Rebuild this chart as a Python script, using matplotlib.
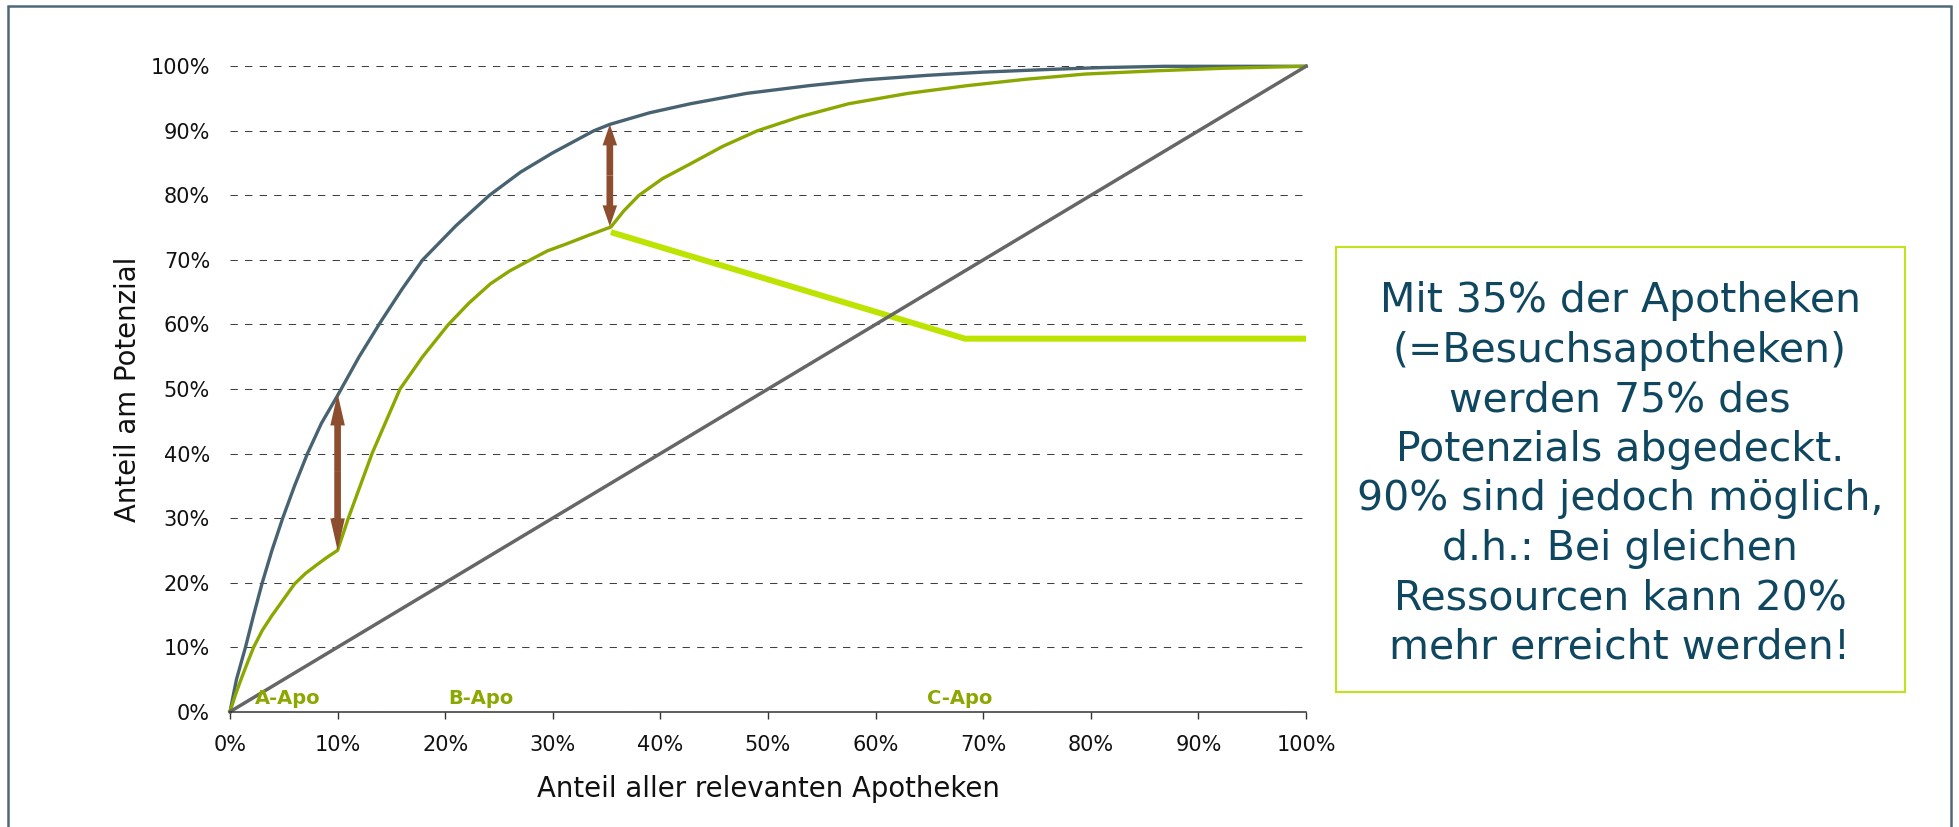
import matplotlib
matplotlib.use("Agg")
import matplotlib.pyplot as plt
from matplotlib.patches import Rectangle
from matplotlib.ticker import PercentFormatter, MultipleLocator

plt.rcParams['font.family'] = ['DejaVu Sans']

# ---- data -------------------------------------------------------------
# ideal cumulative potential (pharmacies sorted by potential)
ideal_x = [0, 0.6, 1.44, 2.2, 3.0, 3.9, 4.9, 6.0, 7.2, 8.5, 10, 12, 14.0, 16,
           17.9, 21, 24.1, 27, 30.0, 33.8, 35.3, 39, 42.8, 48, 53.8, 59,
           64.8, 70, 75.9, 81, 86.9, 100]
ideal_y = [0, 5, 10, 15, 20, 25, 30, 35, 40, 44.7, 49, 55, 60.4, 65.5,
           70, 75.3, 80, 83.6, 86.6, 90, 91, 92.8, 94.2, 95.8, 97.0, 97.9,
           98.6, 99.1, 99.5, 99.8, 100, 100]

# actual cumulative potential with the A/B/C classification
actual_x = [0, 0.5, 1, 1.6, 2.2, 3.0, 3.9, 4.8, 6.0, 7.0, 8.1, 9.0, 10,
            11.0, 12.1, 13.2, 14.5, 15.8, 17.9, 20.3, 22.2, 24.2, 26, 27.9,
            29.5, 31.3, 33.3, 35.4,
            36.6, 38.0, 40.2, 42.8, 45.8, 49.0, 53, 57.5, 63, 68.5, 74,
            79.5, 86, 92.4, 100]
actual_y = [0, 2.6, 4.9, 7.5, 10, 12.6, 14.9, 17.0, 19.8, 21.4, 22.8, 23.9, 25,
            30, 35, 40, 45, 50, 55, 60, 63.3, 66.3, 68.3, 70,
            71.4, 72.5, 73.8, 75.1,
            77.6, 80, 82.6, 84.9, 87.6, 90, 92.2, 94.2, 95.8, 97.0, 98.0,
            98.8, 99.3, 99.7, 100]

# share of visited pharmacies
visit_x = [35.4, 68.3, 100]
visit_y = [74.3, 57.8, 57.8]

# equal distribution
diag_x = [0, 100]
diag_y = [0, 100]

# gaps between ideal and actual curve
gap_x = [10, 35.3]
gap_low = [25.0, 75.2]
gap_high = [49.3, 91.0]

segment_labels = ['A-Apo', 'B-Apo', 'C-Apo']
segment_x = [5.4, 23.3, 67.8]

box_lines = [
    'Mit 35% der Apotheken',
    '(=Besuchsapotheken)',
    'werden 75% des',
    'Potenzials abgedeckt.',
    '90% sind jedoch möglich,',
    'd.h.: Bei gleichen',
    'Ressourcen kann 20%',
    'mehr erreicht werden!',
]

# ---- styles -------------------------------------------------------------
C_IDEAL = '#476270'
C_ACTUAL = '#8aa800'
C_VISIT = '#bce400'
C_DIAG = '#666666'
C_ARROW = '#8c4e2e'
C_TEXT = '#0f4761'
C_FRAME = '#4f6878'
C_BOX = '#c0e41a'
head_lengths = [4.95, 3.25]   # in y data units

W, H = 1959, 827
fig = plt.figure(figsize=(W / 100, H / 100), dpi=100)
fig.patch.set_facecolor('white')

# outer frame
fig.add_artist(Rectangle((7.8 / W, -0.05), (1950.5 - 7.8) / W, 1.05 - 6 / H,
                         transform=fig.transFigure, fill=False,
                         edgecolor=C_FRAME, lw=1.8))

ax = fig.add_axes([230 / W, 1 - 711.7 / H, 1076 / W, (711.7 - 66.3) / H])
ax.set_xlim(0, 100)
ax.set_ylim(0, 100)

ax.grid(axis='y', color='#404040', lw=0.75, linestyle=(0, (7, 7)))
ax.set_axisbelow(True)

ax.plot(visit_x, visit_y, color=C_VISIT, lw=4.3, solid_capstyle='butt', zorder=3)
ax.plot(ideal_x, ideal_y, color=C_IDEAL, lw=2.4, clip_on=False, zorder=4,
        solid_joinstyle='round')
ax.plot(actual_x, actual_y, color=C_ACTUAL, lw=2.4, clip_on=False, zorder=5,
        solid_joinstyle='round')
ax.plot(diag_x, diag_y, color=C_DIAG, lw=2.5, clip_on=False, zorder=6)

for x, lo, hi, hl in zip(gap_x, gap_low, gap_high, head_lengths):
    mid = (lo + hi) / 2
    for end in (hi, lo):
        ax.arrow(x, mid, 0, end - mid, width=0.62, head_width=1.35,
                 head_length=hl, length_includes_head=True,
                 color=C_ARROW, lw=0, zorder=7)

for lab, x in zip(segment_labels, segment_x):
    ax.text(x, 1.2, lab, ha='center', va='baseline', fontsize=14,
            fontweight='bold', color=C_ACTUAL, zorder=8)

for side in ('left', 'right', 'top'):
    ax.spines[side].set_visible(False)
ax.spines['bottom'].set_color('#333333')
ax.spines['bottom'].set_linewidth(1.1)
ax.spines['bottom'].set_zorder(9)

ax.xaxis.set_major_locator(MultipleLocator(10))
ax.yaxis.set_major_locator(MultipleLocator(10))
ax.xaxis.set_major_formatter(PercentFormatter(100, decimals=0))
ax.yaxis.set_major_formatter(PercentFormatter(100, decimals=0))
ax.tick_params(axis='x', direction='out', length=5, width=1, color='#333333',
               pad=11.5, labelsize=15, labelcolor='#111111')
ax.tick_params(axis='y', length=0, pad=14.4, labelsize=15, labelcolor='#111111')

ax.set_xlabel('Anteil aller relevanten Apotheken', fontsize=19.8, color='#111111')
ax.set_ylabel('Anteil am Potenzial', fontsize=19.8, color='#111111')
ax.xaxis.set_label_coords(0.5, -0.098)
ax.yaxis.set_label_coords(-0.0822, 0.5)

# summary box
fig.add_artist(Rectangle((1336 / W, 1 - 692 / H), (1905 - 1336) / W, (692 - 247) / H,
                         transform=fig.transFigure, fill=False,
                         edgecolor=C_BOX, lw=1.5))
fig.text(1620 / W, 1 - 474.5 / H, '\n'.join(box_lines), ha='center', va='center',
         multialignment='center', fontsize=29.5, linespacing=1.305, color=C_TEXT)

fig.savefig('out.png', dpi=100, facecolor='white')
